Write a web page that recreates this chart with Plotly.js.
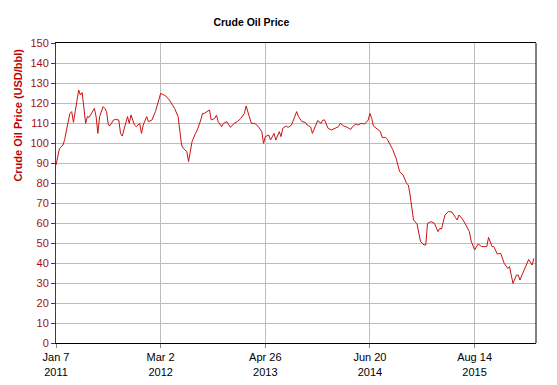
<!DOCTYPE html>
<html>
<head>
<meta charset="utf-8">
<script src="https://cdn.plot.ly/plotly-3.0.1.min.js"></script>
<style>html,body{margin:0;padding:0;background:#fff;}#chart{width:557px;height:385px;}</style>
</head>
<body>
<div id="chart"></div>
<script>
const weeks = [0,1,2,4,5,6,8,9,10,11,13,14,15,17,18,19,21,22,23,24,25,27,28,29,30,31,33,34,36,37,38,40,41,42,43,45,46,48,49,50,52,53,55,57,59,60,62,63,65,67,68,70,71,72,73,75,76,77,78,80,81,83,84,85,87,88,89,91,92,93,95,96,98,100,102,104,106,108,109,110,112,114,116,118,119,120,122,123,125,126,128,129,130,132,133,135,136,138,139,141,143,144,146,147,149,150,152,153,154,156,158,160,162,163,165,167,169,170,172,173,175,177,179,180,181,182,184,186,187,189,190,192,193,195,196,197,199,201,202,203,205,207,209,211,212,213,215,217,219,220,221,223,225,227,229,230,231,233,235,237,238,240,242,244,247,248,250,251,253,255,257,259,260,262,264,265,266,268,270,271,273,274];
// Crude oil price, USD/bbl
const price = [89,94,97.3,99,101.8,106.5,114.8,115.7,110.3,115.7,126.5,124,125.2,109.8,113.2,112.8,115.7,117.3,113.2,104.8,113.2,118.2,117.3,115.7,109,108.7,111.5,111.8,111.5,104.8,103.5,109.8,113.2,109.8,114,109,108.2,109.8,104.8,109,113.2,110.7,111.5,115.7,122.3,124.8,124,123.5,121.5,119,117.3,113.2,106.5,99,97.3,95.7,90.7,95.7,100.7,104.8,106.5,111.5,114.8,114.8,115.7,116.5,111.5,112.3,114,110.7,108.2,109.8,110.7,107.8,109.8,110.7,112.3,114.8,118.5,115.7,109.8,109.8,108.2,105.7,99.8,103.2,104,101.5,104.8,101.5,105.7,103.2,107.3,108.5,107.8,109,111.5,115.7,113.2,110.7,110.3,109,108,104.8,109,111.2,109.8,111.5,111.5,107.3,106.5,107.3,108.2,109.8,108.5,107.8,106.8,108.2,109.5,109,109.8,109.5,111.5,114.8,112.3,108.5,107.3,105.7,102.8,102.8,101.8,98.2,96.8,92.3,89,85.7,84,79.8,79,74,61.5,59.5,50.7,49,49,59.8,60.7,59.8,55.7,57.3,57,64,65.7,65.5,62.8,61.5,64,62,59,55.7,51,46.5,49.5,48.2,48.2,52.8,48.2,48.2,44.5,44.8,39.8,37.3,38.2,29.8,34,34,31.5,35.7,39.8,41.8,39,42.3];
const tickWeeks = [0,60,120,180,240];
const tickLabels = ["Jan 7<br>2011","Mar 2<br>2012","Apr 26<br>2013","Jun 20<br>2014","Aug 14<br>2015"];
const yTicks = [0,10,20,30,40,50,60,70,80,90,100,110,120,130,140,150];

const font = "Liberation Sans, Arial, sans-serif";
const trace = {
  x: weeks, y: price, type: "scatter", mode: "lines",
  line: {color: "#cc1111", width: 1}, hoverinfo: "x+y"
};
const layout = {
  width: 557, height: 385,
  margin: {l: 56, r: 21, t: 43, b: 42},
  paper_bgcolor: "#ffffff", plot_bgcolor: "#ffffff",
  showlegend: false,
  font: {family: font, size: 11, color: "#000"},
  title: {text: "<b>Crude Oil Price</b>", font: {family: font, size: 10.5, color: "#000"},
          x: 0.407, xref: "paper", xanchor: "center", y: 0.942, yref: "container", yanchor: "middle"},
  xaxis: {
    type: "linear", range: [0, 275.2], tickmode: "array", tickvals: tickWeeks, ticktext: tickLabels,
    showgrid: true, gridcolor: "#bdbdbd", gridwidth: 1,
    showline: true, linecolor: "#000", linewidth: 1, mirror: true,
    ticks: "outside", ticklen: 4, tickcolor: "#888", zeroline: false,
    tickfont: {family: font, size: 11, color: "#000"}, fixedrange: true
  },
  yaxis: {
    range: [0, 150], tickmode: "array", tickvals: yTicks,
    showgrid: true, gridcolor: "#bdbdbd", gridwidth: 1,
    showline: true, linecolor: "#cc0000", linewidth: 1, mirror: false,
    ticks: "outside", ticklen: 4, tickcolor: "#cc0000", zeroline: false,
    tickfont: {family: font, size: 11, color: "#a01010"},
    fixedrange: true
  },
  annotations: [{
    text: "<b>Crude Oil Price (USD/bbl)</b>", textangle: -90, showarrow: false,
    xref: "paper", yref: "paper", x: 0, y: 0.758, xanchor: "center", yanchor: "middle",
    xshift: -38, font: {family: font, size: 11, color: "#c00000"}
  }],
  shapes: [{type: "line", xref: "paper", yref: "paper", x0: 1, x1: 1, y0: 0, y1: 1,
            line: {color: "#000", width: 1}}]
};
Plotly.newPlot("chart", [trace], layout, {displayModeBar: false, staticPlot: true});
</script>
</body>
</html>
